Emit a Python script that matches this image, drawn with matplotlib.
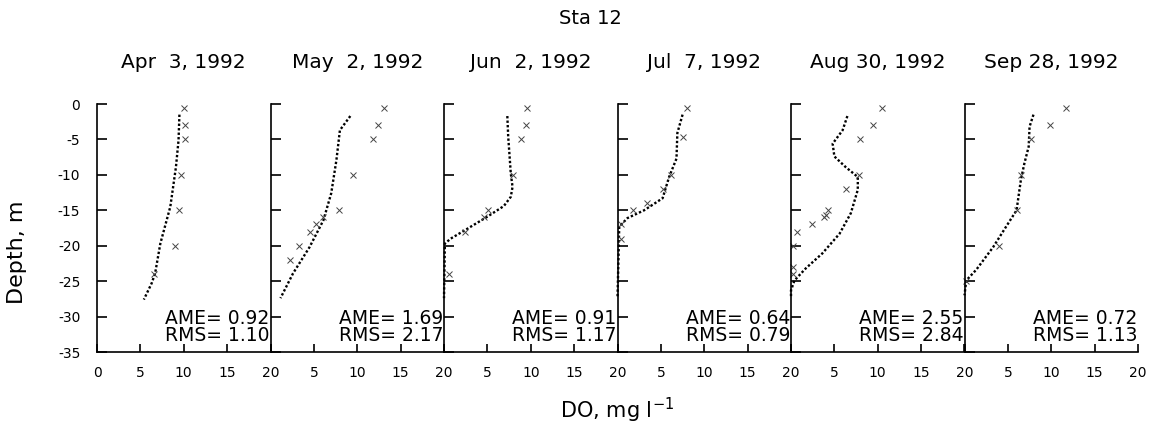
import matplotlib
matplotlib.use("Agg")
import matplotlib.pyplot as plt

plt.rcParams['font.family'] = ['DejaVu Sans']

station = "Sta 12"
dates = ["Apr  3, 1992", "May  2, 1992", "Jun  2, 1992", "Jul  7, 1992", "Aug 30, 1992", "Sep 28, 1992"]
ame = ["0.92", "1.69", "0.91", "0.64", "2.55", "0.72"]
rms = ["1.10", "2.17", "1.17", "0.79", "2.84", "1.13"]

# model (dotted) profiles
model_depth_1 = [-1.5, -5.1, -8.9, -14.5, -19.7, -23.9, -25.3, -27.6]
model_do_1 = [9.5, 9.4, 9.1, 8.45, 7.3, 6.7, 6.3, 5.4]
model_depth_2 = [-1.7, -3.7, -7.9, -12.6, -16.4, -20.2, -23.9, -27.4]
model_do_2 = [9.2, 8.0, 7.6, 7.0, 6.1, 4.5, 2.6, 1.15]
model_depth_3 = [-1.7, -4.6, -9.8, -11.7, -13.1, -14.4, -15.9, -17.6, -19.0, -19.7, -27.4]
model_do_3 = [7.3, 7.4, 7.7, 7.9, 7.7, 6.9, 5.0, 2.7, 0.77, 0.1, 0.0]
model_depth_4 = [-1.5, -4.1, -7.7, -10.3, -13.3, -15.0, -16.1, -17.3, -27.4]
model_do_4 = [7.5, 6.9, 6.8, 5.95, 5.2, 3.07, 1.15, 0.2, 0.0]
model_depth_5 = [-1.7, -3.7, -5.6, -7.4, -8.9, -10.3, -12.1, -15.4, -18.3, -21.1, -23.2, -24.9, -26.3, -27.4]
model_do_5 = [6.5, 5.95, 4.8, 5.0, 6.3, 7.7, 7.7, 6.9, 5.6, 3.6, 1.7, 0.4, 0.0, 0.0]
model_depth_6 = [-1.5, -3.2, -6.0, -8.4, -10.7, -15.0, -17.3, -20.2, -23.4, -24.9, -27.0]
model_do_6 = [7.95, 7.5, 7.4, 6.9, 6.5, 6.0, 4.8, 3.3, 1.35, 0.2, 0.0]

# observations (x markers)
obs_depth_1 = [-0.5, -3, -5, -10, -15, -20, -24]
obs_do_1 = [10.0, 10.2, 10.1, 9.7, 9.5, 9.0, 6.6]
obs_depth_2 = [-0.5, -3, -5, -10, -15, -16, -17, -18, -20, -22]
obs_do_2 = [13.1, 12.4, 11.8, 9.5, 7.9, 6.1, 5.3, 4.5, 3.3, 2.3]
obs_depth_3 = [-0.5, -3, -5, -10, -15, -16, -18, -24]
obs_do_3 = [9.55, 9.4, 8.9, 7.9, 5.1, 4.6, 2.4, 0.6]
obs_depth_4 = [-0.5, -4.7, -10, -12, -14, -15, -17, -19]
obs_do_4 = [8.0, 7.5, 6.15, 5.2, 3.4, 1.8, 0.4, 0.4]
obs_depth_5 = [-0.5, -3, -5, -10, -12, -15, -15.6, -16, -17, -18, -20, -23, -24]
obs_do_5 = [10.5, 9.5, 8.0, 7.8, 6.3, 4.3, 4.0, 3.75, 2.4, 0.65, 0.2, 0.25, 0.2]
obs_depth_6 = [-0.5, -3, -5, -10, -15, -20, -25]
obs_do_6 = [11.7, 9.8, 7.7, 6.5, 6.0, 3.95, 0.2]

models = [(model_do_1, model_depth_1), (model_do_2, model_depth_2), (model_do_3, model_depth_3),
          (model_do_4, model_depth_4), (model_do_5, model_depth_5), (model_do_6, model_depth_6)]
obs = [(obs_do_1, obs_depth_1), (obs_do_2, obs_depth_2), (obs_do_3, obs_depth_3),
       (obs_do_4, obs_depth_4), (obs_do_5, obs_depth_5), (obs_do_6, obs_depth_6)]

x_ticks = [0, 5, 10, 15, 20]
y_ticks = [0, -5, -10, -15, -20, -25, -30, -35]

W, H = 1154, 429
fig = plt.figure(figsize=(W / 100, H / 100), dpi=100)

left_px, right_px = 97, 1138
top_px, bot_px = 104, 352
pw = (right_px - left_px) / 6

for i in range(6):
    ax = fig.add_axes([(left_px + i * pw) / W, 1 - bot_px / H, pw / W, (bot_px - top_px) / H])
    mx, my = models[i]
    ox, oy = obs[i]
    ax.plot(mx, my, color='black', lw=1.7, ls=(0, (1, 0.9)), clip_on=False)
    ax.plot(ox, oy, ls='none', marker='x', ms=4, mew=0.7, color='#444444', clip_on=False)
    ax.set_xlim(0, 20)
    ax.set_ylim(-35, 0)
    ax.spines['top'].set_visible(False)
    ax.spines['right'].set_visible(False)
    for s in ('left', 'bottom'):
        ax.spines[s].set_linewidth(1.2)
    ax.set_xticks(x_ticks)
    ax.set_xticklabels([str(t) if (t != 0 or i == 0) else '' for t in x_ticks], fontsize=10)
    ax.set_yticks(y_ticks)
    if i == 0:
        ax.set_yticklabels([str(t) for t in y_ticks], fontsize=10)
    else:
        ax.set_yticklabels([])
    ax.tick_params(axis='x', direction='in', length=6, width=1.2, pad=10)
    ax.tick_params(axis='y', direction='in', length=7, width=1.2, pad=12)
    ax.set_title(dates[i], fontsize=14.5, pad=26)
    ax.text(0.995, 0.03, "AME= " + ame[i] + "\nRMS= " + rms[i], transform=ax.transAxes,
            ha='right', va='bottom', multialignment='right', fontsize=13.5, linespacing=0.82)
    ax.patch.set_alpha(0)

fig.text(590 / W, 1 - 18 / H, station, ha='center', va='center', fontsize=14)
fig.text(17 / W, 1 - 252 / H, "Depth, m", rotation=90, ha='center', va='center', fontsize=16)
fig.text(617 / W, 1 - 410 / H, r"DO, mg l$^{\mathregular{-1}}$", ha='center', va='center', fontsize=15)

fig.savefig("out.png", dpi=100)
